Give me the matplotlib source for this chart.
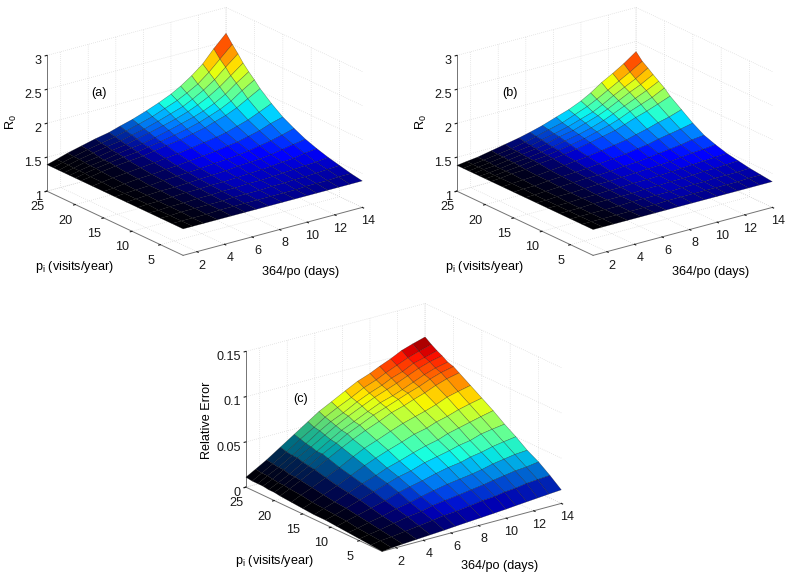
import numpy as np
import matplotlib
matplotlib.use('Agg')
import matplotlib.pyplot as plt

plt.rcParams['font.family'] = ['Liberation Sans', 'DejaVu Sans']
plt.rcParams['mathtext.fontset'] = 'custom'
plt.rcParams['mathtext.rm'] = 'Liberation Sans'

# grid lines of the surfaces
x_days = [1, 1.7, 2.5, 3.5, 4.5, 5.5, 6.3, 7.2, 8.2, 9.1, 10, 10.7, 11.5, 12.3, 13.1, 14]
p_visits = [1, 3, 5, 7, 9, 11, 13, 15, 17, 19, 20, 21, 22, 22.9, 23.9, 25]

x_ticks = [2, 4, 6, 8, 10, 12, 14]
p_ticks = [5, 10, 15, 20, 25]

# heights, one row per p_visits value
r0_a = [
    [1.39, 1.39, 1.39, 1.39, 1.39, 1.39, 1.39, 1.39, 1.39, 1.39, 1.39, 1.39, 1.39, 1.39, 1.39, 1.39],
    [1.39, 1.39, 1.39, 1.39, 1.40, 1.40, 1.40, 1.40, 1.40, 1.40, 1.40, 1.41, 1.41, 1.41, 1.42, 1.42],
    [1.39, 1.39, 1.40, 1.40, 1.40, 1.40, 1.41, 1.41, 1.41, 1.42, 1.42, 1.43, 1.43, 1.44, 1.45, 1.46],
    [1.39, 1.39, 1.40, 1.40, 1.41, 1.41, 1.42, 1.42, 1.43, 1.43, 1.44, 1.45, 1.46, 1.47, 1.48, 1.50],
    [1.39, 1.40, 1.40, 1.41, 1.42, 1.42, 1.43, 1.43, 1.44, 1.45, 1.46, 1.47, 1.49, 1.50, 1.53, 1.55],
    [1.39, 1.40, 1.41, 1.42, 1.42, 1.43, 1.44, 1.45, 1.46, 1.48, 1.49, 1.50, 1.52, 1.55, 1.58, 1.61],
    [1.39, 1.40, 1.41, 1.42, 1.44, 1.45, 1.46, 1.47, 1.49, 1.50, 1.52, 1.54, 1.57, 1.60, 1.64, 1.69],
    [1.39, 1.40, 1.42, 1.44, 1.45, 1.47, 1.48, 1.50, 1.52, 1.54, 1.57, 1.59, 1.63, 1.67, 1.73, 1.78],
    [1.39, 1.41, 1.43, 1.45, 1.47, 1.49, 1.51, 1.53, 1.56, 1.59, 1.62, 1.65, 1.70, 1.75, 1.82, 1.90],
    [1.39, 1.41, 1.44, 1.47, 1.49, 1.51, 1.54, 1.57, 1.60, 1.64, 1.68, 1.73, 1.78, 1.85, 1.94, 2.04],
    [1.39, 1.42, 1.45, 1.48, 1.51, 1.53, 1.56, 1.59, 1.63, 1.67, 1.72, 1.77, 1.83, 1.91, 2.02, 2.13],
    [1.39, 1.42, 1.45, 1.48, 1.52, 1.55, 1.57, 1.61, 1.66, 1.71, 1.76, 1.81, 1.88, 1.97, 2.09, 2.21],
    [1.39, 1.42, 1.46, 1.49, 1.53, 1.56, 1.60, 1.64, 1.69, 1.74, 1.80, 1.86, 1.94, 2.04, 2.16, 2.30],
    [1.39, 1.43, 1.47, 1.51, 1.55, 1.58, 1.62, 1.66, 1.72, 1.78, 1.84, 1.91, 2.00, 2.11, 2.25, 2.40],
    [1.39, 1.43, 1.47, 1.52, 1.56, 1.60, 1.64, 1.69, 1.75, 1.82, 1.89, 1.96, 2.05, 2.18, 2.33, 2.50],
    [1.39, 1.43, 1.48, 1.53, 1.58, 1.62, 1.67, 1.72, 1.79, 1.86, 1.94, 2.02, 2.13, 2.26, 2.44, 2.62],
]
r0_b = [
    [1.38, 1.38, 1.38, 1.38, 1.38, 1.38, 1.38, 1.38, 1.38, 1.38, 1.38, 1.38, 1.38, 1.38, 1.38, 1.38],
    [1.38, 1.38, 1.38, 1.38, 1.38, 1.38, 1.38, 1.39, 1.39, 1.39, 1.39, 1.39, 1.39, 1.39, 1.40, 1.40],
    [1.38, 1.38, 1.38, 1.38, 1.38, 1.39, 1.39, 1.39, 1.39, 1.40, 1.40, 1.40, 1.41, 1.41, 1.41, 1.42],
    [1.38, 1.38, 1.38, 1.39, 1.39, 1.39, 1.39, 1.40, 1.40, 1.41, 1.41, 1.42, 1.43, 1.43, 1.44, 1.45],
    [1.38, 1.38, 1.38, 1.39, 1.39, 1.40, 1.40, 1.41, 1.41, 1.42, 1.43, 1.44, 1.45, 1.46, 1.47, 1.48],
    [1.38, 1.38, 1.39, 1.39, 1.40, 1.41, 1.41, 1.42, 1.43, 1.44, 1.45, 1.46, 1.48, 1.50, 1.51, 1.53],
    [1.38, 1.38, 1.39, 1.40, 1.41, 1.42, 1.42, 1.43, 1.45, 1.46, 1.48, 1.50, 1.52, 1.54, 1.57, 1.59],
    [1.38, 1.39, 1.39, 1.41, 1.42, 1.43, 1.44, 1.46, 1.48, 1.50, 1.53, 1.55, 1.59, 1.62, 1.65, 1.69],
    [1.38, 1.39, 1.40, 1.41, 1.43, 1.45, 1.47, 1.49, 1.52, 1.55, 1.58, 1.62, 1.66, 1.71, 1.75, 1.81],
    [1.38, 1.39, 1.41, 1.42, 1.45, 1.47, 1.49, 1.52, 1.56, 1.60, 1.64, 1.69, 1.75, 1.80, 1.86, 1.93],
    [1.38, 1.39, 1.41, 1.43, 1.46, 1.48, 1.51, 1.54, 1.58, 1.63, 1.68, 1.73, 1.80, 1.86, 1.92, 2.01],
    [1.38, 1.39, 1.41, 1.44, 1.46, 1.49, 1.52, 1.56, 1.60, 1.65, 1.71, 1.77, 1.84, 1.91, 1.98, 2.07],
    [1.38, 1.40, 1.41, 1.44, 1.47, 1.50, 1.53, 1.58, 1.62, 1.68, 1.74, 1.80, 1.88, 1.96, 2.03, 2.13],
    [1.38, 1.40, 1.42, 1.45, 1.48, 1.51, 1.55, 1.59, 1.64, 1.70, 1.76, 1.83, 1.92, 2.00, 2.08, 2.19],
    [1.38, 1.40, 1.42, 1.45, 1.48, 1.52, 1.56, 1.61, 1.66, 1.73, 1.80, 1.87, 1.96, 2.05, 2.14, 2.25],
    [1.38, 1.40, 1.42, 1.46, 1.50, 1.54, 1.58, 1.63, 1.70, 1.76, 1.84, 1.92, 2.03, 2.12, 2.22, 2.35],
]
rel_err = [
    [.000, .001, .002, .003, .004, .005, .006, .007, .008, .009, .010, .011, .012, .013, .014, .015],
    [.001, .003, .004, .006, .008, .010, .012, .013, .015, .017, .018, .020, .021, .023, .024, .025],
    [.002, .004, .006, .009, .012, .014, .017, .019, .021, .023, .025, .027, .029, .031, .032, .034],
    [.003, .005, .008, .011, .015, .018, .021, .024, .027, .029, .031, .033, .036, .038, .040, .041],
    [.004, .007, .010, .014, .018, .023, .026, .029, .033, .036, .038, .041, .043, .046, .048, .050],
    [.005, .008, .012, .017, .022, .027, .031, .034, .039, .042, .045, .048, .050, .054, .056, .058],
    [.005, .009, .013, .019, .025, .030, .035, .039, .044, .048, .051, .055, .058, .061, .064, .067],
    [.006, .010, .015, .021, .028, .035, .040, .045, .050, .055, .058, .062, .065, .069, .072, .075],
    [.007, .012, .017, .024, .031, .039, .045, .050, .056, .061, .065, .068, .072, .077, .080, .083],
    [.008, .013, .019, .027, .035, .043, .049, .055, .061, .067, .071, .075, .079, .084, .088, .091],
    [.009, .014, .020, .028, .037, .045, .052, .058, .065, .070, .075, .079, .083, .088, .092, .095],
    [.009, .014, .020, .029, .037, .046, .053, .059, .066, .072, .076, .080, .085, .090, .094, .097],
    [.010, .015, .022, .031, .039, .048, .055, .062, .069, .075, .080, .084, .089, .094, .098, .101],
    [.010, .016, .022, .031, .040, .050, .057, .063, .071, .077, .082, .087, .091, .097, .100, .104],
    [.010, .016, .023, .032, .042, .051, .059, .066, .073, .080, .085, .090, .095, .100, .104, .108],
    [.011, .017, .024, .034, .044, .054, .062, .069, .077, .084, .089, .094, .099, .105, .109, .113],
]

# the original mesh is so dense at low x and low p that it looks black there
x_shade_ab = [.02, .06, .14, .28, .45, .62, .8, .95, 1, 1, 1, 1, 1, 1, 1]
x_shade_c = [.03, .12, .3, .5, .7, .85, .95, 1, 1, 1, 1, 1, 1, 1, 1]
p_shade = [.7, .82, .9, .95, 1, 1, 1, 1, 1, 1, 1, 1, 1, 1, 1]

W, H = 800, 585
fig = plt.figure(figsize=(W / 100, H / 100), dpi=100)


def put_text(px, py, s, **kw):
    fig.text(px / W, 1 - py / H, s, ha='center', va='center', fontsize=9.1, **kw)


def draw_panel(left, top, z, zlim, zticks, zlabels, vmin, vmax, floor, x_shade):
    size = 340
    ax = fig.add_axes([left / W, 1 - (top + size) / H, size / W, size / H], projection='3d')
    ax.set_proj_type('ortho')
    ax.view_init(elev=20.8, azim=-127)
    ax.set_box_aspect((224, 226, 145))
    ax.patch.set_alpha(0)

    X, P = np.meshgrid(x_days, p_visits)
    Z = np.array(z)
    # one colour per cell, from the mean height of its corners
    cell = (Z[:-1, :-1] + Z[1:, :-1] + Z[:-1, 1:] + Z[1:, 1:]) / 4
    rgba = plt.cm.jet(np.maximum(floor, (cell - vmin) / (vmax - vmin)))
    rgba[..., :3] *= np.outer(p_shade, x_shade)[..., None]
    surf = ax.plot_surface(X, P, Z, facecolors=rgba, rstride=1, cstride=1, shade=False)
    surf.set_edgecolor((0, 0, 0, 0.45))
    surf.set_linewidth(0.35)

    ax.set_xlim(1, 14)
    ax.set_ylim(1, 25)
    ax.set_zlim(*zlim)
    ax.set_xticks(x_ticks)
    ax.set_yticks(p_ticks)
    ax.set_zticks(zticks)
    ax.set_zticklabels(zlabels, ha='right')
    for axis, pad in ((ax.xaxis, -3), (ax.yaxis, -1), (ax.zaxis, -6)):
        axis.set_pane_color((1, 1, 1, 0))
        axis.pane.set_edgecolor((1, 1, 1, 0))
        axis.line.set_color('0.45')
        axis.line.set_linewidth(0.7)
        axis._axinfo['grid'].update(color='0.82', linestyle=(0, (1, 2)), linewidth=0.5)
        axis._axinfo['tick'].update(inward_factor=0.12, outward_factor=0.0)
        axis.set_tick_params(labelsize=9.1, pad=pad, colors='0.1', width=0.5)
    return ax


draw_panel(30, -34, r0_a, (1, 3), [1, 1.5, 2, 2.5, 3], ['1', '1.5', '2', '2.5', '3'], 1.36, 2.72, .07, x_shade_ab)
draw_panel(440, -34, r0_b, (1, 3), [1, 1.5, 2, 2.5, 3], ['1', '1.5', '2', '2.5', '3'], 1.356, 2.43, .07, x_shade_ab)
draw_panel(229, 262, rel_err, (0, .15), [0, .05, .1, .15], ['0', '0.05', '0.1', '0.15'], 0, .113, 0, x_shade_c)

put_text(74, 267, r'p$_{\mathrm{i}}$ (visits/year)')
put_text(301, 272, '364/po (days)')
put_text(11, 122, r'R$_{0}$', rotation=90)
put_text(99, 93, '(a)')

put_text(484, 267, r'p$_{\mathrm{i}}$ (visits/year)')
put_text(711, 272, '364/po (days)')
put_text(421, 122, r'R$_{0}$', rotation=90)
put_text(510, 93, '(b)')

put_text(274, 561, r'p$_{\mathrm{i}}$ (visits/year)')
put_text(500, 566, '364/po (days)')
put_text(207, 420, 'Relative Error', rotation=90)
put_text(301, 399, '(c)')

fig.savefig('out.png', dpi=100)
